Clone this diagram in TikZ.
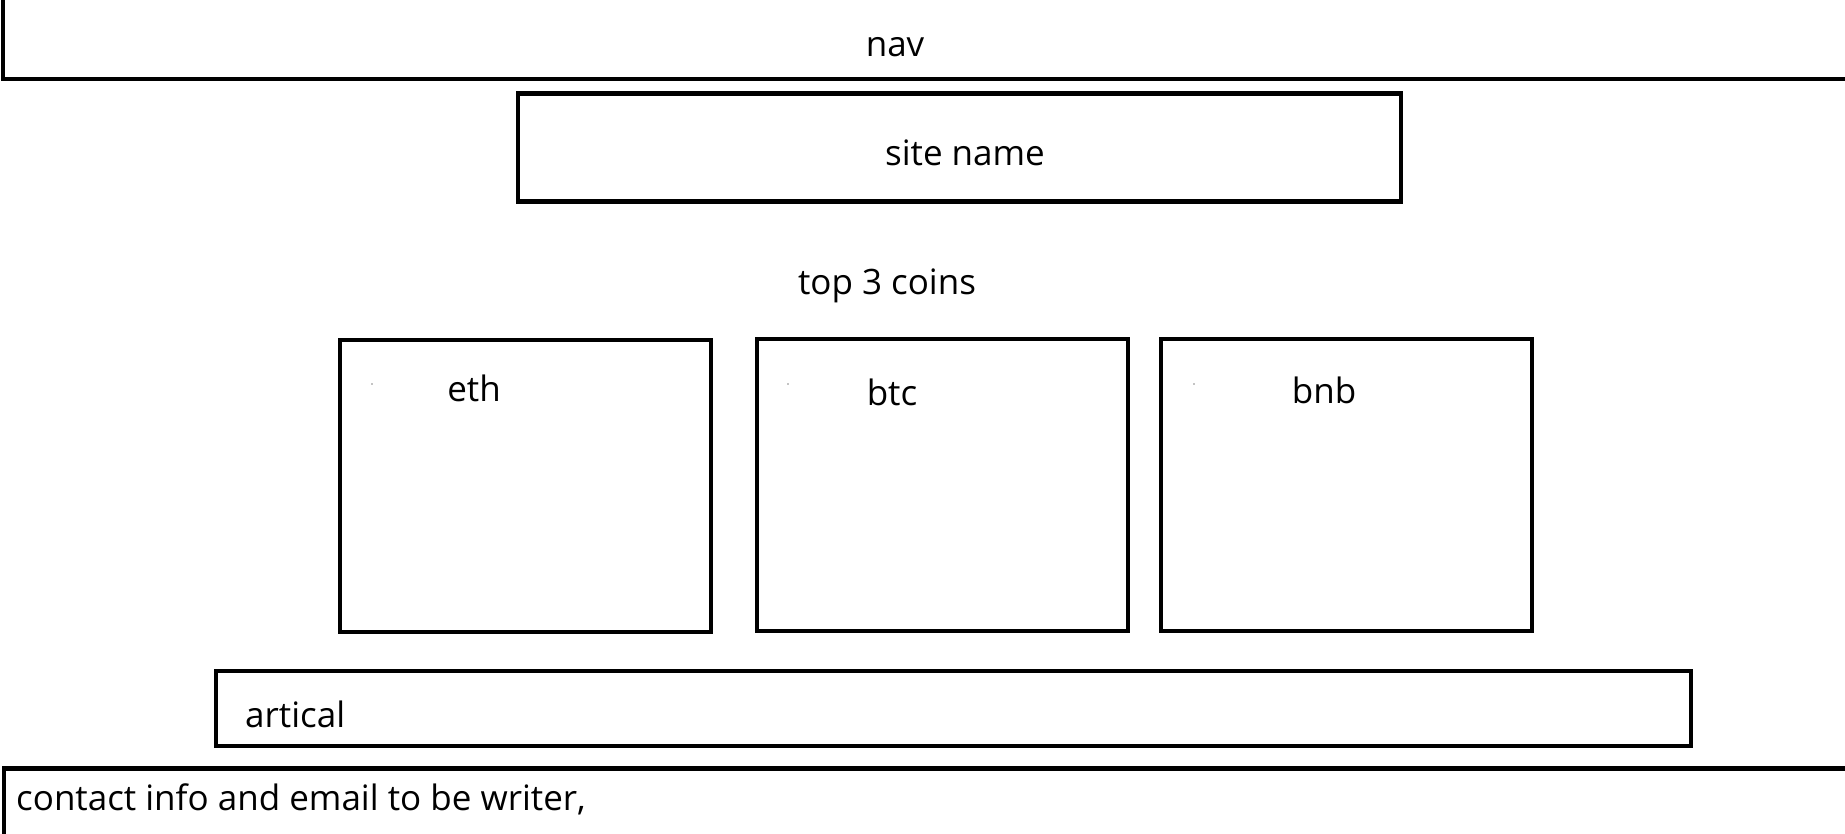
\documentclass[tikz,border=0pt]{standalone}
\usepackage{fontspec}
\setmainfont{Open Sans}
\begin{document}
\begin{tikzpicture}[x=1pt,y=-1pt,
  frame/.style={draw=black,line width=4.5pt,rectangle,inner sep=0pt,anchor=north west},
  lbl/.style={font=\fontsize{35}{42}\selectfont,inner sep=0pt},
  speck/.style={fill=black,circle,inner sep=0pt,minimum size=1.2pt}]
\useasboundingbox (0,0) rectangle (1845,833);
\clip (0,0) rectangle (1845,833);
% nav
\node[frame,minimum width=1900pt,minimum height=100pt] (nav) at (0.5,-23.5) {};
\node[lbl] (navt) at (895,47) {nav};
% site name
\node[frame,minimum width=883pt,minimum height=108pt] (site) at (515.6,91) {};
\node[lbl] (sitet) at (965,153) {site name};
% top 3 coins
\node[lbl] (top) at (887,286) {top 3 coins};
% coins
\node[frame,minimum width=371pt,minimum height=292pt] (eth) at (337.6,337.6) {};
\node[lbl] (etht) at (474,388) {eth};
\node[speck] (ethd) at (372,384) {};
\node[frame,minimum width=371pt,minimum height=292pt] (btc) at (754.6,336.6) {};
\node[lbl] (btct) at (892,392) {btc};
\node[speck] (btcd) at (788,384) {};
\node[frame,minimum width=371pt,minimum height=292pt] (bnb) at (1158.6,336.6) {};
\node[lbl] (bnbt) at (1324,390) {bnb};
\node[speck] (bnbd) at (1194,384) {};
% artical
\node[frame,minimum width=1475pt,minimum height=75pt] (art) at (213.6,668.6) {};
\node[lbl,anchor=west] (artt) at (245,714) {artical};
% footer
\node[frame,minimum width=1900pt,minimum height=120pt] (foot) at (1.5,766) {};
\node[lbl,anchor=west] (foott) at (16,799) {contact info and email to be writer,};
\end{tikzpicture}
\end{document}
